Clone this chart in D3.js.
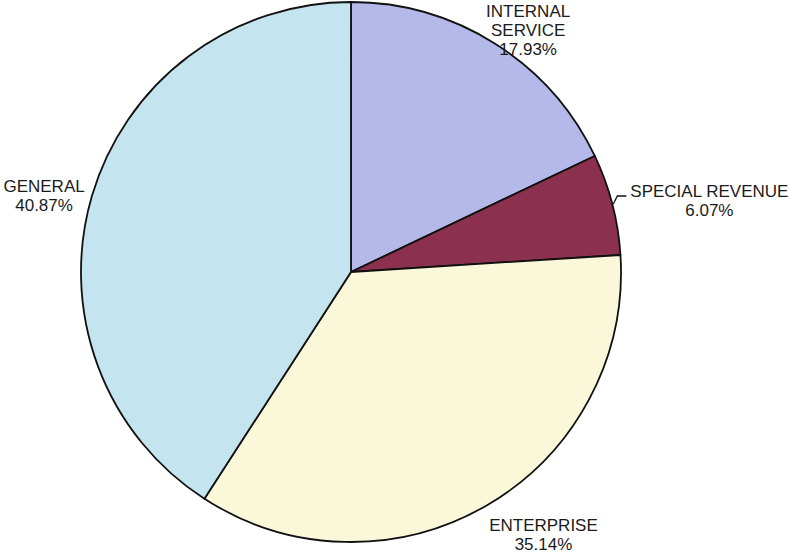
<!DOCTYPE html>
<html>
<head>
<meta charset="utf-8">
<script src="https://cdn.jsdelivr.net/npm/d3@7"></script>
<style>
  html, body { margin: 0; padding: 0; background: #ffffff; }
  svg { display: block; }
</style>
</head>
<body>
<svg id="chart" width="790" height="553"></svg>
<script>
const categories = ["INTERNAL SERVICE", "SPECIAL REVENUE", "ENTERPRISE", "GENERAL"];
const values = [17.93, 6.07, 35.14, 40.87];
const labelLines = [["INTERNAL", "SERVICE"], ["SPECIAL REVENUE"], ["ENTERPRISE"], ["GENERAL"]];
const colors = ["#b4b9ea", "#8c3050", "#fbf8da", "#c4e4ef"];

const W = 790, H = 553;
const cx = 351, cy = 272, R = 270;

// label placement relative to the slice's outer mid-point (layout, not data)
const labelOffsets = [
  { dx: 33, dy: -27 },
  { dx: 97, dy: -7 },
  { dx: 56, dy: 26 },
  { dx: -48, dy: -4 }
];

const svg = d3.select("#chart");
const g = svg.append("g").attr("transform", `translate(${cx},${cy})`);

const pie = d3.pie().sort(null).value(d => d.v).startAngle(0).endAngle(2 * Math.PI);
const data = categories.map((c, i) => ({ name: c, v: values[i], i }));
const arcs = pie(data);
const arc = d3.arc().innerRadius(0).outerRadius(R);

g.selectAll("path.slice")
  .data(arcs)
  .join("path")
  .attr("class", "slice")
  .attr("d", arc)
  .attr("fill", d => colors[d.data.i])
  .attr("stroke", "#111")
  .attr("stroke-width", 1.8)
  .attr("stroke-linejoin", "round");

function edgePoint(a, r) {
  return [r * Math.sin(a), -r * Math.cos(a)];
}

// leader line for SPECIAL REVENUE
const sp = arcs[1];
const mid = (sp.startAngle + sp.endAngle) / 2;
const p0 = edgePoint(mid, R + 1);
g.append("path")
  .attr("d", d3.line()([p0, [p0[0] + 4, p0[1] - 8], [p0[0] + 13, p0[1] - 8]]))
  .attr("fill", "none")
  .attr("stroke", "#111")
  .attr("stroke-width", 1.3);

const fmt = v => v.toFixed(2) + "%";

arcs.forEach((d, k) => {
  const m = (d.startAngle + d.endAngle) / 2;
  const p = edgePoint(m, R);
  const off = labelOffsets[k];
  const x = p[0] + off.dx, y = p[1] + off.dy;
  const lines = labelLines[k].concat([fmt(d.data.v)]);
  const t = g.append("text")
    .attr("x", x)
    .attr("y", y)
    .attr("text-anchor", "middle")
    .attr("font-family", "Liberation Sans, Arial, sans-serif")
    .attr("font-size", 17)
    .attr("fill", "#1a1a1a");
  lines.forEach((ln, j) => {
    t.append("tspan").attr("x", x).attr("dy", j === 0 ? 0 : 19).text(ln);
  });
});
</script>
</body>
</html>
